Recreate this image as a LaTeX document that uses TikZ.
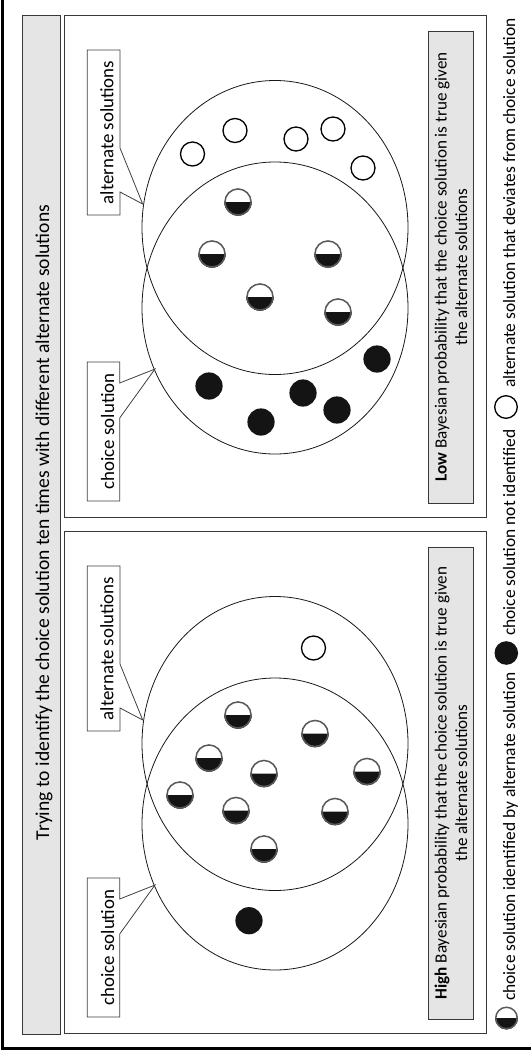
\documentclass[tikz,border=0pt]{standalone}
\usepackage{fontspec}
\setmainfont{Carlito}
\newcommand{\HalfDot}[3]{%
  \fill[white] (#1,#2) circle[radius=#3pt];
  \fill[black!92] ([xshift=-#3pt]#1,#2) arc[start angle=180,end angle=360,radius=#3pt] -- cycle;
  \draw[black!65, line width=1.5pt] (#1,#2) circle[radius=#3pt-0.75pt];
}
\newcommand{\EmptyDot}[3]{%
  \draw[black, line width=1.3pt] (#1,#2) circle[radius=#3pt];
}
\newcommand{\FullDot}[3]{%
  \fill[black!92] (#1,#2) circle[radius=#3pt];
}
\begin{document}
\begin{tikzpicture}[x=1pt,y=-1pt,
  boxline/.style={draw=black!78, line width=0.9pt},
  graybox/.style={boxline, fill=black!10},
  venn/.style={draw=black!90, line width=0.8pt},
  callout/.style={draw=black!75, line width=0.8pt, fill=white, line join=miter},
  vtext/.style={rotate=90, inner sep=0pt},
  titlefont/.style={font=\fontsize{19.6}{22}\selectfont},
  calloutfont/.style={font=\fontsize{18.9}{22}\selectfont},
  infofont/.style={font=\fontsize{17.1}{20.5}\selectfont},
  legendfont/.style={font=\fontsize{17.4}{20}\selectfont}]
\useasboundingbox (0,0) rectangle (531,1053);
\fill[white] (0,0) rectangle (531,1053);
% outer border (left and bottom)
\draw[black, line width=3pt] (2.2,0) -- (2.2,1048.5) -- (531,1048.5);

% title bar
\path[graybox] (22,15.5) rectangle (60.7,1034);
\node[vtext, titlefont, anchor=base] (title) at (49.2,522.5) {Trying to identify the choice solution ten times with different alternate solutions};

% two panels
\foreach \dy/\word/\nm in {0/Low/low, 516/High/high}{
  \begin{scope}[shift={(0,\dy)}]
    \draw[boxline, fill=white] (64,15.5) rectangle (486.5,517);
    \draw[venn] (275,227.5) ellipse [x radius=133pt, y radius=147pt];
    \draw[venn] (275,308) ellipse [x radius=133pt, y radius=146pt];
    % callout: alternate solutions
    \coordinate (\nm-alttip) at (142.7,204);
    \draw[callout] (87.3,50) -- (120,50) -- (120,148) -- (\nm-alttip) -- (120,192) -- (120,215) -- (87.3,215) -- cycle;
    \node[vtext, calloutfont, anchor=base] (\nm-alt) at (113.3,132.5) {alternate solutions};
    % callout: choice solution
    \coordinate (\nm-choicetip) at (155,369);
    \draw[callout] (87.3,362) -- (119.7,362) -- (119.7,383) -- (\nm-choicetip) -- (119.7,418) -- (119.7,501) -- (87.3,501) -- cycle;
    \node[vtext, calloutfont, anchor=base] (\nm-choice) at (114,431.5) {choice solution};
    % info box
    \path[graybox] (428,31) rectangle (473,503);
    \node[vtext, infofont, anchor=base] (\nm-info1) at (446.7,267) {\textbf{\word} Bayesian probability that the choice solution is true given};
    \node[vtext, infofont, anchor=base] (\nm-info2) at (467.2,267) {the alternate solutions};
  \end{scope}
}

% Low panel dots
\foreach \x/\y in {192.5/154, 235/130.5, 296/139, 333/129, 363/168} {\EmptyDot{\x}{\y}{12}}
\foreach \x/\y in {238/202, 212/254, 328/254, 260/297, 338/312} {\HalfDot{\x}{\y}{13.8}}
\foreach \x/\y in {209/386, 261/422, 303/393, 337/410, 377/359} {\FullDot{\x}{\y}{13.6}}

% High panel dots
\EmptyDot{313.5}{648}{12}
\foreach \x/\y in {238/715, 315/733.5, 209/758, 264/773.5, 367/771.5, 180/795, 236/810.5, 335/811.5, 264/849} {\HalfDot{\x}{\y}{13.8}}
\FullDot{249}{920.7}{13.6}

% legend
\HalfDot{506.5}{1018}{11.5}
\node[vtext, legendfont, anchor=base west] (leg1) at (515,1001) {choice solution identified by alternate solution};
\FullDot{506.3}{653}{11.8}
\node[vtext, legendfont, anchor=base west] (leg2) at (515,636) {choice solution not identified};
\EmptyDot{506}{407}{11.3}
\node[vtext, legendfont, anchor=base west] (leg3) at (515,388) {alternate solution that deviates from choice solution};
\end{tikzpicture}
\end{document}
